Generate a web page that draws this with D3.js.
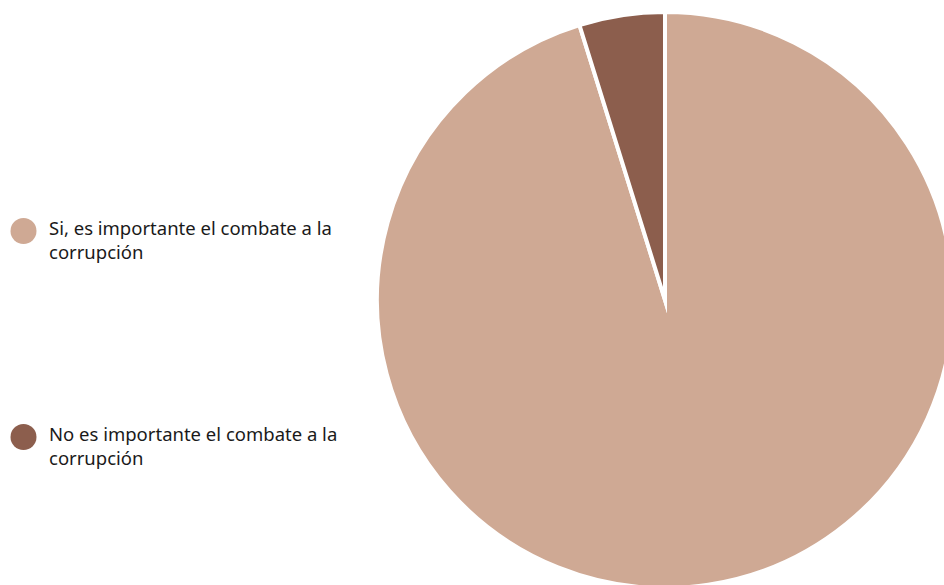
<!DOCTYPE html>
<html>
<head>
<meta charset="utf-8">
<script src="https://cdn.jsdelivr.net/npm/d3@7"></script>
<style>
  html, body { margin: 0; padding: 0; background: #fff; }
  svg { display: block; }
  .legend text { font-family: "Noto Sans", "Open Sans", sans-serif; font-size: 18.5px; fill: #1a1a1a; }
</style>
</head>
<body>
<svg id="chart" width="944" height="585"></svg>
<script>
// Survey answers and their shares (percent)
const categories = ["Si, es importante el combate a la corrupción", "No es importante el combate a la corrupción"];
const legendLines = [["Si, es importante el combate a la", "corrupción"], ["No es importante el combate a la", "corrupción"]];
const values = [95.2, 4.8];
const colors = ["#CFA994", "#8C5E4D"];

const svg = d3.select("#chart");
const cx = 665, cy = 300, radius = 288;

const color = d3.scaleOrdinal().domain(categories).range(colors);

const pie = d3.pie().sort(null).value(d => d.value);
const arc = d3.arc().innerRadius(0).outerRadius(radius);

const data = categories.map((c, i) => ({ category: c, value: values[i] }));

svg.append("g")
  .attr("transform", `translate(${cx},${cy})`)
  .selectAll("path")
  .data(pie(data))
  .join("path")
  .attr("d", arc)
  .attr("fill", d => color(d.data.category))
  .attr("stroke", "#fff")
  .attr("stroke-width", 4)
  .attr("stroke-linejoin", "miter")
  .attr("stroke-miterlimit", 20);

// Legend
const legendY = [231, 437];
const legend = svg.append("g").attr("class", "legend")
  .selectAll("g")
  .data(categories)
  .join("g")
  .attr("transform", (d, i) => `translate(0,${legendY[i]})`);

legend.append("circle")
  .attr("cx", 23.5)
  .attr("cy", 0)
  .attr("r", 13)
  .attr("fill", d => color(d));

legend.append("text")
  .attr("x", 49)
  .attr("y", -2)
  .selectAll("tspan")
  .data((d, i) => legendLines[i])
  .join("tspan")
  .attr("x", 49)
  .attr("dy", (d, j) => j === 0 ? "0.33em" : "1.3em")
  .text(d => d);
</script>
</body>
</html>
